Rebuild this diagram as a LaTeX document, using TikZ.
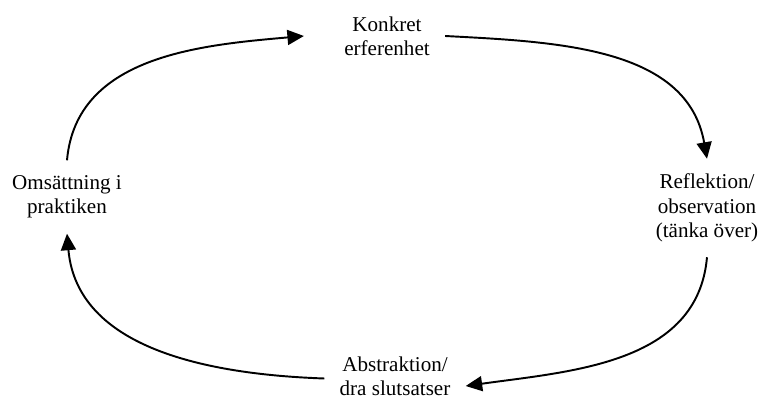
\documentclass[tikz,border=0pt]{standalone}
\usepackage{fontspec}
\setmainfont{Liberation Serif}
\usetikzlibrary{arrows.meta}

\begin{document}
\begin{tikzpicture}[x=0.2mm, y=0.2mm,
    stage/.style={align=center, inner sep=3mm, font=\fontsize{12}{13.8}\selectfont},
    cycle/.style={-{Triangle[length=3.3mm, width=3mm]}, line width=1.1pt}]
    \useasboundingbox (0,0) rectangle (758,399);

    % Stages
    \node[stage] (konkret) at (387,363) {Konkret\\erferenhet};
    \node[stage] (reflek) at (707,191) {Reflektion/\\observation\\(tänka över)};
    \node[stage] (abstr) at (395,23) {Abstraktion/\\dra slutsatser};
    \node[stage] (omsat) at (67,202) {Omsättning i\\praktiken};

    % Cycle arrows
    \draw[cycle] (omsat.north) to[out=85, in=185] ([xshift=-5mm]konkret.west);
    \draw[cycle] (konkret.east) to[out=-3, in=100] (reflek.north);
    \draw[cycle] (reflek.south) to[out=-95, in=8] ([yshift=-2mm]abstr.east);
    \draw[cycle] ([yshift=-0.5mm]abstr.west) to[out=178, in=-85] (omsat.south);
\end{tikzpicture}
\end{document}
